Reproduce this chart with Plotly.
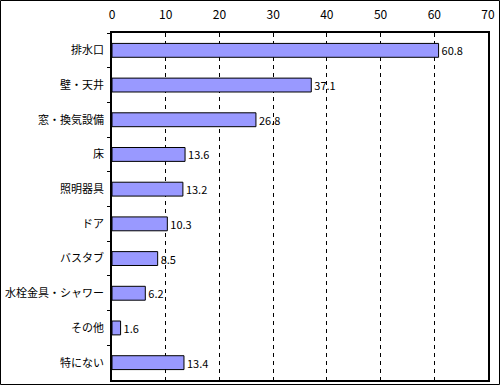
import plotly.graph_objects as go

categories = ["排水口", "壁・天井", "窓・換気設備", "床", "照明器具", "ドア", "バスタブ", "水栓金具・シャワー", "その他", "特にない"]
values = [60.8, 37.1, 26.8, 13.6, 13.2, 10.3, 8.5, 6.2, 1.6, 13.4]
tick_vals = [0, 10, 20, 30, 40, 50, 60, 70]

FONT = "Noto Sans CJK JP"

fig = go.Figure(go.Bar(
    x=values, y=categories, orientation="h",
    marker=dict(color="#9999FF", line=dict(color="black", width=1)),
    text=[f"{v:g}" for v in values], textposition="outside",
    constraintext="none",
    textfont=dict(family=FONT, size=11, color="black"),
    cliponaxis=False, hoverinfo="skip",
))

W, H = 500, 385
L, R, T, B = 112, 12, 33, 5
pw, ph = W - L - R, H - T - B

def px_x(p):
    return (p - L) / pw

def px_y(p):
    return (H - B - p) / ph

fig.update_layout(
    width=W, height=H,
    margin=dict(l=L, r=R, t=T, b=B, pad=0, autoexpand=False),
    paper_bgcolor="white", plot_bgcolor="white",
    showlegend=False, bargap=0.6,
    font=dict(family=FONT, size=11, color="black"),
    xaxis=dict(side="top", range=[0, 70], tickvals=tick_vals, ticks="outside",
               ticklen=7, tickcolor="rgba(0,0,0,0)",
               showgrid=True, gridcolor="black", griddash="4px,4px", gridwidth=1,
               showline=True, linecolor="black", linewidth=1.5, mirror=True,
               zeroline=False, automargin=False, tickfont=dict(family=FONT, size=12)),
    yaxis=dict(autorange="reversed", tickson="boundaries", ticks="outside",
               ticklen=3, tickcolor="black", showgrid=False, automargin=False,
               showline=True, linecolor="black", linewidth=1.5, mirror=True,
               tickfont=dict(family=FONT, size=11), ticklabelstandoff=4),
    shapes=[dict(type="rect", xref="paper", yref="paper",
                 x0=px_x(0.5), x1=px_x(499.5), y0=px_y(384.5), y1=px_y(0.5),
                 line=dict(color="black", width=1), layer="above")],
)

fig.write_html("out.html", config={"displayModeBar": False},
               post_script="document.body.style.margin='0';document.body.style.overflow='hidden';")
